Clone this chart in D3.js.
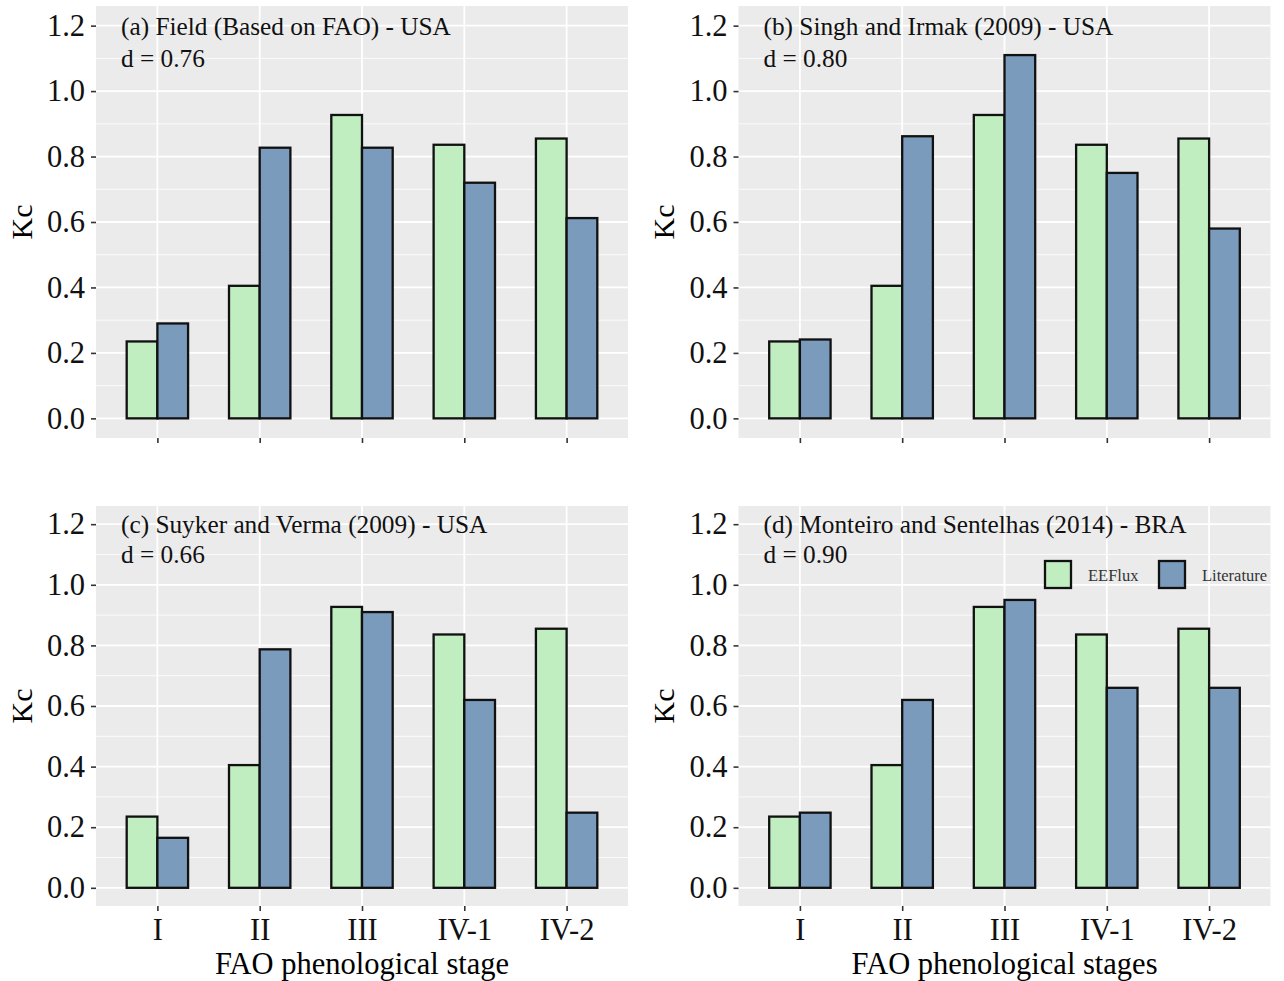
<!DOCTYPE html>
<html lang="en">
<head>
<meta charset="UTF-8">
<title>Kc by FAO phenological stage</title>
<script src="https://d3js.org/d3.v7.min.js"></script>
<style>
  body, html { margin: 0; padding: 0; background: #fff; overflow: hidden; }
  svg text { font-family: "Liberation Serif", "Times New Roman", serif; }
</style>
</head>
<body>
<svg id="chart" width="1284" height="981"></svg>
<script>
  // data
  const stages = ["I", "II", "III", "IV-1", "IV-2"];
  const seriesNames = ["EEFlux", "Literature"];
  const eeflux = [0.235, 0.405, 0.927, 0.836, 0.855];
  const litA = [0.290, 0.827, 0.827, 0.720, 0.612];
  const litB = [0.241, 0.862, 1.110, 0.750, 0.580];
  const litC = [0.165, 0.787, 0.910, 0.620, 0.248];
  const litD = [0.248, 0.620, 0.950, 0.660, 0.660];
  const titles = ["(a) Field (Based on FAO) - USA", "(b) Singh and Irmak (2009) - USA",
                  "(c) Suyker and Verma (2009) - USA", "(d) Monteiro and Sentelhas (2014) - BRA"];
  const dLabels = ["d = 0.76", "d = 0.80", "d = 0.66", "d = 0.90"];
  const yTicks = [0, 0.2, 0.4, 0.6, 0.8, 1.0, 1.2];
  const yMinor = [0.1, 0.3, 0.5, 0.7, 0.9, 1.1];
  const xTitles = [null, null, "FAO phenological stage", "FAO phenological stages"];

  const colors = { "EEFlux": "#c0eec0", "Literature": "#7b9bbd" };

  const panels = [
    { left: 96,    top: 6,   w: 532, h: 432, lit: litA, xAxis: false, legend: false },
    { left: 738.5, top: 6,   w: 532, h: 432, lit: litB, xAxis: false, legend: false },
    { left: 96,    top: 506, w: 532, h: 400, lit: litC, xAxis: true,  legend: false },
    { left: 738.5, top: 506, w: 532, h: 400, lit: litD, xAxis: true,  legend: true }
  ];

  const svg = d3.select("#chart");

  panels.forEach((p, k) => {
    const g = svg.append("g").attr("transform", `translate(${p.left},${p.top})`);

    const x = d3.scalePoint().domain(stages).range([0, p.w]).padding(0.6);
    const step = x.step();
    const xs = d3.scaleBand().domain(seriesNames).range([-0.3 * step, 0.3 * step]);
    const y = d3.scaleLinear().domain([-0.06, 1.26]).range([p.h, 0]);

    g.append("rect").attr("width", p.w).attr("height", p.h).attr("fill", "#ebebeb");

    g.selectAll(".minor").data(yMinor).enter().append("line")
      .attr("x1", 0).attr("x2", p.w)
      .attr("y1", d => y(d)).attr("y2", d => y(d))
      .attr("stroke", "#fff").attr("stroke-width", 0.8);
    g.selectAll(".major").data(yTicks).enter().append("line")
      .attr("x1", 0).attr("x2", p.w)
      .attr("y1", d => y(d)).attr("y2", d => y(d))
      .attr("stroke", "#fff").attr("stroke-width", 1.8);
    g.selectAll(".vgrid").data(stages).enter().append("line")
      .attr("x1", d => x(d)).attr("x2", d => x(d))
      .attr("y1", 0).attr("y2", p.h)
      .attr("stroke", "#fff").attr("stroke-width", 1.8);

    const rows = [];
    stages.forEach((s, i) => {
      rows.push({ stage: s, series: "EEFlux", value: eeflux[i] });
      rows.push({ stage: s, series: "Literature", value: p.lit[i] });
    });

    g.selectAll(".bar").data(rows).enter().append("rect")
      .attr("x", d => x(d.stage) + xs(d.series))
      .attr("width", xs.bandwidth())
      .attr("y", d => y(d.value))
      .attr("height", d => y(0) - y(d.value))
      .attr("fill", d => colors[d.series])
      .attr("stroke", "#111").attr("stroke-width", 2.3);

    // y axis
    const yAxis = g.append("g").call(d3.axisLeft(y).tickValues(yTicks).tickFormat(d3.format(".1f")).tickSize(5).tickPadding(6));
    yAxis.select(".domain").remove();
    yAxis.selectAll("line").attr("stroke", "#333").attr("stroke-width", 1.6);
    yAxis.selectAll("text").attr("font-size", 30.5).attr("fill", "#111")
      .style("font-family", "Liberation Serif");

    // x axis
    const xAxis = g.append("g").attr("transform", `translate(0,${p.h})`)
      .call(d3.axisBottom(x).tickSize(5).tickPadding(7));
    xAxis.select(".domain").remove();
    xAxis.selectAll("line").attr("stroke", "#333").attr("stroke-width", 1.6);
    xAxis.selectAll("text").attr("font-size", 30.5).attr("fill", "#111")
      .style("font-family", "Liberation Serif")
      .attr("visibility", p.xAxis ? "visible" : "hidden");

    // y title
    svg.append("text")
      .attr("transform", `translate(${p.left - 75},${p.top + p.h / 2}) rotate(-90)`)
      .attr("text-anchor", "middle").attr("dominant-baseline", "central")
      .attr("font-size", 30).attr("fill", "#000").text("Kc");

    if (xTitles[k]) {
      svg.append("text")
        .attr("x", p.left + p.w / 2).attr("y", 964)
        .attr("text-anchor", "middle").attr("dominant-baseline", "central")
        .attr("font-size", 30.5).attr("fill", "#000").text(xTitles[k]);
    }

    // annotations
    g.append("text").attr("x", 25).attr("y", y(1.2))
      .attr("dominant-baseline", "central").attr("font-size", 25.3).attr("fill", "#111")
      .text(titles[k]);
    g.append("text").attr("x", 25).attr("y", y(1.1))
      .attr("dominant-baseline", "central").attr("font-size", 25.3).attr("fill", "#111")
      .text(dLabels[k]);

    if (p.legend) {
      const lg = g.append("g").attr("transform", `translate(${1045 - p.left},${574 - p.top})`);
      const offs = [0, 114];
      seriesNames.forEach((s, i) => {
        lg.append("rect").attr("x", offs[i]).attr("y", -13).attr("width", 26).attr("height", 27)
          .attr("fill", colors[s]).attr("stroke", "#111").attr("stroke-width", 2.3);
        lg.append("text").attr("x", offs[i] + 43).attr("y", 1)
          .attr("dominant-baseline", "central").attr("font-size", 16.5).attr("fill", "#333")
          .text(s);
      });
    }
  });
</script>
</body>
</html>
